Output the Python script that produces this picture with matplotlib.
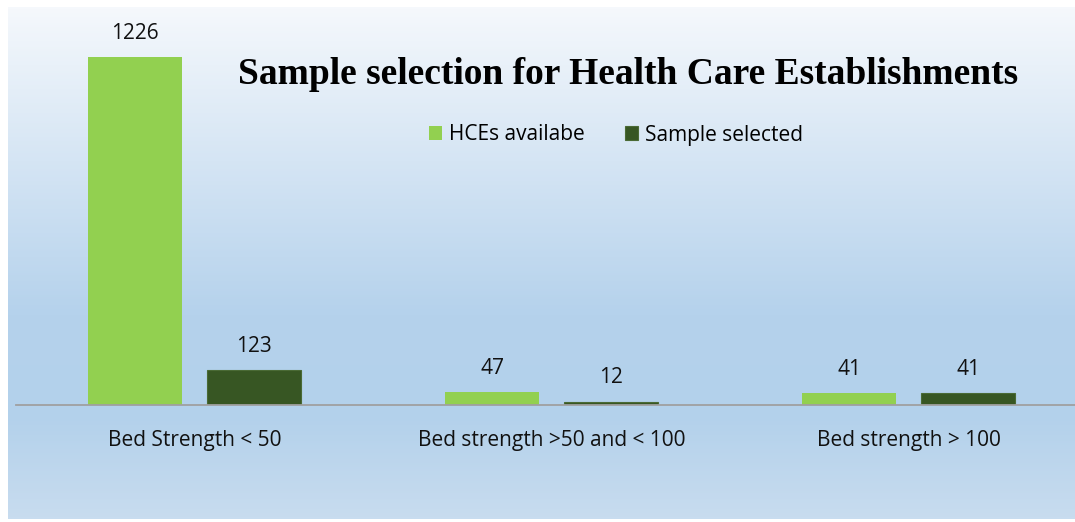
import numpy as np
import matplotlib
matplotlib.use("Agg")
import matplotlib.pyplot as plt
from matplotlib.colors import LinearSegmentedColormap

categories = ["Bed Strength < 50", "Bed strength >50 and < 100", "Bed strength > 100"]
hces_available = [1226, 47, 41]
sample_selected = [123, 12, 41]
series_names = ["HCEs availabe", "Sample selected"]

W, H = 1075, 522
fig = plt.figure(figsize=(W / 100, H / 100), dpi=100)
fig.patch.set_facecolor("white")

# gradient background, white-ish at the top, blue in the middle, lighter at the bottom
bg = fig.add_axes([8 / W, 3 / H, 1 - 8 / W, 1 - 10 / H])
bg_cmap = LinearSegmentedColormap.from_list(
    "bg", [(0.0, "#f5f8fc"), (0.6, "#b5d2ec"), (0.8, "#b3d1eb"), (1.0, "#c8dcef")])
grad = np.linspace(0, 1, 256).reshape(-1, 1)
bg.imshow(grad, aspect="auto", cmap=bg_cmap, extent=[0, 1, 0, 1], origin="upper")
bg.set_axis_off()

# main axes: baseline at y=405px, top at y=7px
ax = fig.add_axes([16 / W, (H - 405) / H, (W - 16) / W, (405 - 7) / H])
ax.patch.set_alpha(0)
ax.set_zorder(2)

x = np.arange(len(categories))
bw = 0.263
off = 0.1667
b1 = ax.bar(x - off, hces_available, bw, color="#92d050", label=series_names[0])
b2 = ax.bar(x + off, sample_selected, bw, color="#375623", edgecolor="#4a6a35",
            linewidth=0.8, label=series_names[1])

lbl_font = "Open Sans"
fs = 15
for bars, vals in ((b1, hces_available), (b2, sample_selected)):
    for rect, v in zip(bars, vals):
        ax.annotate(str(v), (rect.get_x() + rect.get_width() / 2, v),
                    xytext=(0, 17), textcoords="offset points",
                    ha="center", va="center", fontsize=fs,
                    family=lbl_font, color="#111111")

ax.set_xlim(-0.5, 2.466)
ax.set_ylim(0, 1402)
ax.set_xticks(x)
ax.set_xticklabels(categories, fontsize=fs, family=lbl_font, color="#111111")
ax.tick_params(axis="x", length=0, pad=18)
ax.set_yticks([])
for s in ["top", "right", "left"]:
    ax.spines[s].set_visible(False)
ax.spines["bottom"].set_color("#a0a0a0")
ax.spines["bottom"].set_linewidth(1.3)

fig.text(628 / W, 1 - 74 / H, "Sample selection for Health Care Establishments",
         ha="center", va="center", fontsize=27, fontweight="bold",
         family="Liberation Serif", color="black")

leg = ax.legend(loc="center", bbox_to_anchor=(616 / W, 1 - 135 / H),
                bbox_transform=fig.transFigure, ncol=2, frameon=False,
                prop={"family": lbl_font, "size": fs},
                handlelength=0.62, handleheight=0.62, handletextpad=0.35,
                columnspacing=1.9)

fig.savefig("out.png", dpi=100)
